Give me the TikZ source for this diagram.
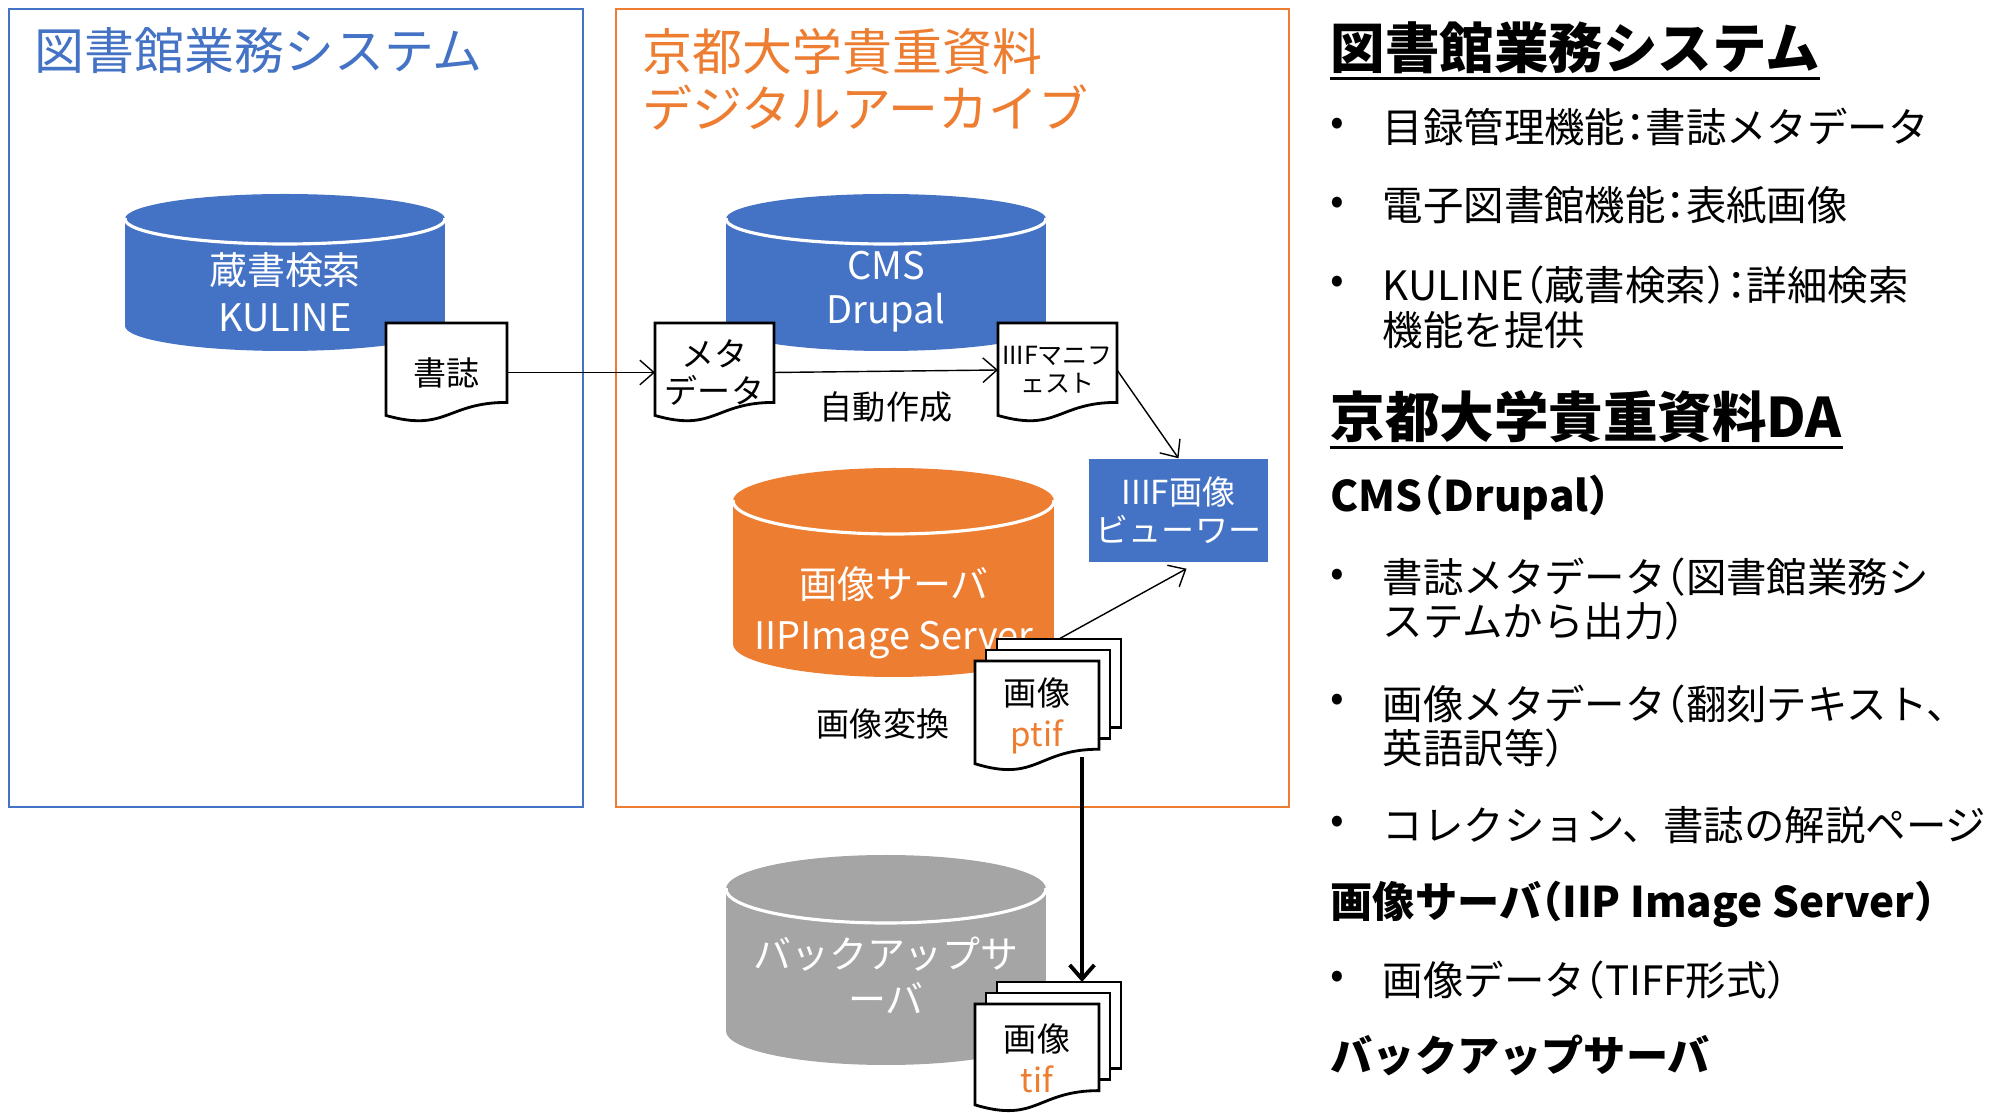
\documentclass[tikz,border=0pt]{standalone}
\usepackage{fontspec}
\setmainfont{Noto Sans CJK JP}
\usetikzlibrary{arrows.meta}
\definecolor{officeblue}{RGB}{68, 114, 196}
\definecolor{officeorange}{RGB}{237, 125, 49}
\definecolor{officegray}{RGB}{165, 165, 165}

\tikzset{
  docline/.style    = {fill=white, draw=black, line width=0.8pt},
  doctext/.style    = {inner sep=0pt, outer sep=0pt, align=center, font=\fontsize{9.4}{10.8}\selectfont},
  cyltext/.style    = {text=white, align=center, inner sep=0pt, font=\fontsize{10.8}{13.2}\selectfont},
  arr/.style        = {-{Straight Barb[length=4pt,width=7pt]}, line width=0.4pt},
  bulletmark/.style = {inner sep=0pt, font=\fontsize{11.5}{12.6}\selectfont},
  itemtext/.style   = {anchor=west, align=left, inner sep=0pt, font=\fontsize{11.5}{12.6}\selectfont},
  heading/.style    = {anchor=west, inner sep=0pt, font=\fontsize{15.5}{17}\selectfont\bfseries},
  subhead/.style    = {anchor=west, inner sep=0pt, font=\fontsize{12}{14}\selectfont\bfseries},
}

\newcommand{\hw}[1]{{\addfontfeature{RawFeature=+halt}#1}}
\newcommand{\dbcyl}[6]{%
  \fill[#6] ({(#1+#2)/2},{#4-#5}) ellipse ({(#2-#1)/2} and #5);
  \fill[#6] (#1,{#3+#5}) rectangle (#2,{#4-#5});
  \fill[#6] ({(#1+#2)/2},{#3+#5}) ellipse ({(#2-#1)/2} and #5);
  \begin{scope}
    \clip ({#1-5},{#3+#5}) rectangle ({#2+5},{#3+2*#5+5});
    \draw[white, line width=0.9pt] ({(#1+#2)/2},{#3+#5}) ellipse ({(#2-#1)/2} and #5);
  \end{scope}}
\newcommand{\docsheet}[4]{%
  \filldraw[docline] (#1,#2) -- ({#1+#3},#2) -- ({#1+#3},{#2+0.802*#4})
    .. controls ({#1+0.5*#3},{#2+0.802*#4}) and ({#1+0.5*#3},{#2+1.1075*#4}) .. (#1,{#2+0.934*#4}) -- cycle;}
\newcommand{\multidoc}[4]{%
  \filldraw[docline] ({#1+22},{#2-22}) rectangle ({#1+22+#3},{#2-22+0.802*#4});
  \filldraw[docline] ({#1+11},{#2-11}) rectangle ({#1+11+#3},{#2-11+0.802*#4});
  \docsheet{#1}{#2}{#3}{#4}}

\begin{document}
\begin{tikzpicture}[x=0.01cm, y=-0.01cm]
    \useasboundingbox (0,0) rectangle (1993,1113);
    \draw[officeblue,   line width=0.8pt] (9,9)   rectangle (583,807);
    \draw[officeorange, line width=0.8pt] (616,9) rectangle (1289,807);
    \node[anchor=west, inner sep=0pt, text=officeblue, font=\fontsize{14.2}{16.2}\selectfont] (libtitle) at (34,51) {図書館業務システム};
    \node[anchor=west, inner sep=0pt, align=left, text=officeorange, font=\fontsize{14.2}{16.2}\selectfont] (kutitle) at (642,79.5) {京都大学貴重資料\\デジタルアーカイブ};

    \dbcyl{125}{445}{194}{351}{25}{officeblue}
    \dbcyl{726}{1046}{194}{351}{25}{officeblue}
    \dbcyl{733}{1054}{468}{677}{33}{officeorange}
    \dbcyl{726}{1046}{855}{1065}{34}{officegray}
    \node[cyltext, font=\fontsize{10.8}{13.4}\selectfont] (kuline) at (285,292.5) {蔵書検索\\KULINE};
    \node[cyltext, font=\fontsize{10.8}{12.5}\selectfont] (cms)    at (886,292)   {CMS\\Drupal};
    \node[cyltext, font=\fontsize{10.8}{14.5}\selectfont] (imgsrv) at (894,612.5) {画像サーバ\\IIPImage Server};
    \node[cyltext, font=\fontsize{10.8}{12.8}\selectfont] (backup) at (886,975.5) {バックアップサ\\ーバ};

    \docsheet{386}{323}{121}{99}
    \docsheet{655}{323}{119}{99}
    \docsheet{998}{323}{119}{99}
    \multidoc{975}{661}{124}{110}
    \multidoc{975}{1004}{124}{108}
    \node[doctext, minimum width=1.21cm, minimum height=0.99cm] (shoshi)   at (446.5,372.5) {書誌};
    \node[doctext, minimum width=1.19cm, minimum height=0.99cm] (meta)     at (714.5,372.5) {メタ\\データ};
    \node[doctext, minimum width=1.19cm, minimum height=0.99cm,
          font=\fontsize{7.1}{8}\selectfont]                    (manifest) at (1057.5,370) {IIIFマニフ\\ェスト};
    \node[doctext, minimum width=1.24cm, minimum height=1.10cm,
          font=\fontsize{9.4}{11.7}\selectfont]                 (ptif)     at (1037,716) {画像\\\textcolor{officeorange}{ptif}};
    \node[doctext, minimum width=1.24cm, minimum height=1.08cm,
          font=\fontsize{9.4}{11.7}\selectfont]                 (tif)      at (1037,1058) {画像\\\textcolor{officeorange}{tif}};

    \node[fill=officeblue, text=white, align=center, inner sep=0pt, minimum width=1.79cm, minimum height=1.03cm,
          font=\fontsize{9.4}{10.8}\selectfont] (viewer) at (1178.5,510.5) {IIIF画像\\ビューワー};

    \node[doctext] (autogen) at (886,407) {自動作成};
    \node[doctext] (convert) at (883,724) {画像変換};

    \draw[arr] (shoshi.east)   -- (meta.west);
    \draw[arr] (meta.east)     -- (manifest.west);
    \draw[arr] (manifest.east) -- (viewer.north);
    \draw[arr] ([shift={(22,-22)}]ptif.north) -- ([shift={(8,6)}]viewer.south);
    \draw[arr, line width=1.1pt] ([shift={(-17,-14)}]ptif.south east) -- ([shift={(45,-22)}]tif.north);

    \node[heading] (libhead) at (1330,48) {図書館業務システム};
    \draw[line width=0.9pt] ([yshift=-1pt]libhead.south west) -- ([yshift=-1pt]libhead.south east);
    \node[bulletmark] (lb1) at (1337,127) {•};
    \node[itemtext]   (li1) at (1382,127) {目録管理機能\hw{：}書誌メタデータ};
    \node[bulletmark] (lb2) at (1337,206) {•};
    \node[itemtext]   (li2) at (1382,206) {電子図書館機能\hw{：}表紙画像};
    \node[bulletmark] (lb3) at (1337,285) {•};
    \node[itemtext]   (li3) at (1382,307.5) {KULINE\hw{（}蔵書検索\hw{）：}詳細検索\\機能を提供};

    \node[heading] (dahead) at (1330,417) {京都大学貴重資料DA};
    \draw[line width=0.9pt] ([yshift=-1pt]dahead.south west) -- ([yshift=-1pt]dahead.south east);
    \node[subhead]    (cmshead) at (1330,498) {CMS\hw{（}Drupal\hw{）}};
    \node[bulletmark] (db1) at (1337,578) {•};
    \node[itemtext]   (di1) at (1382,599) {書誌メタデータ\hw{（}図書館業務シ\\ステムから出力\hw{）}};
    \node[bulletmark] (db2) at (1337,703) {•};
    \node[itemtext]   (di2) at (1382,726) {画像メタデータ\hw{（}翻刻テキスト、\\英語訳等\hw{）}};
    \node[bulletmark] (db3) at (1337,825) {•};
    \node[itemtext]   (di3) at (1382,825) {コレクション、書誌の解説ページ};
    \node[subhead]    (imghead) at (1330,904) {画像サーバ\hw{（}IIP Image Server\hw{）}};
    \node[bulletmark] (db4) at (1337,980) {•};
    \node[itemtext]   (di4) at (1382,980) {画像データ\hw{（}TIFF形式\hw{）}};
    \node[subhead]    (bkhead) at (1330,1055) {バックアップサーバ};
\end{tikzpicture}
\end{document}
